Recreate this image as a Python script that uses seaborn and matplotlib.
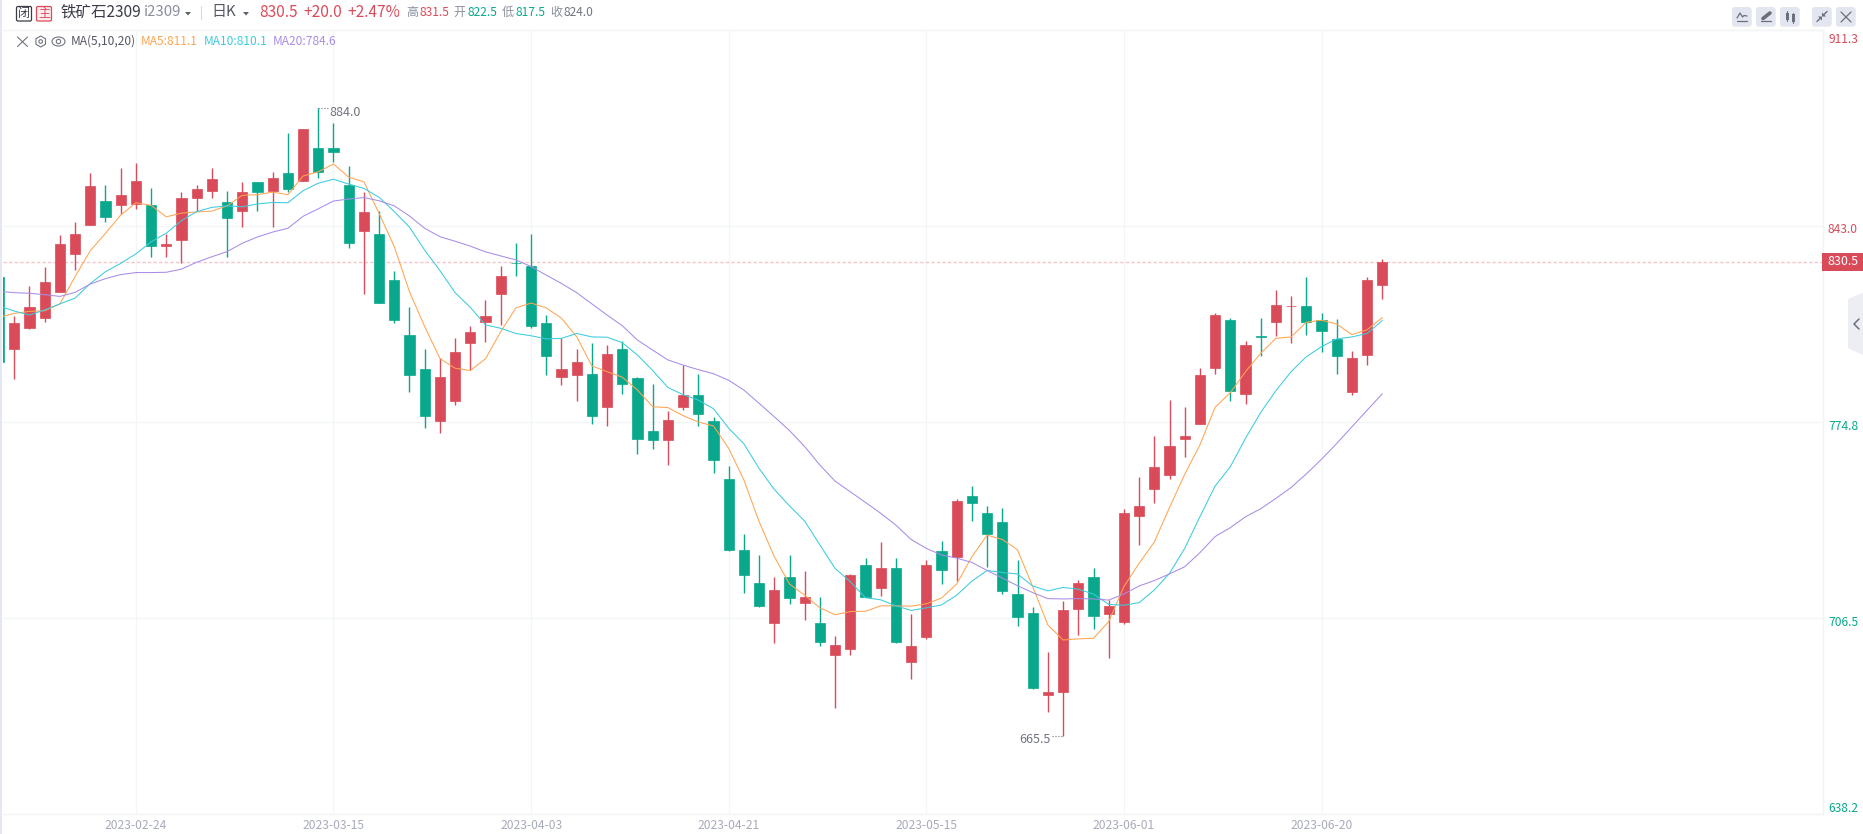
import pandas as pd
import seaborn as sns
import matplotlib
matplotlib.use("Agg")
import matplotlib.pyplot as plt
from matplotlib.patches import Rectangle, FancyBboxPatch, Polygon, Circle, RegularPolygon, Ellipse

# OHLC
opens = [825.4, 800.3, 807.5, 811.0, 820.0, 833.3, 843.4, 851.7, 850.3, 850.7,
         850.3, 836.0, 838.1, 852.7, 855.2, 851.4, 848.2, 858.3, 855.2, 861.4,
         858.7, 870.1, 870.1, 857.3, 841.3, 840.2, 824.2, 805.1, 793.2, 775.1,
         782.1, 802.3, 809.6, 819.3, 830.1, 829.1, 809.2, 790.4, 791.1, 791.5,
         780.0, 800.2, 790.1, 771.6, 768.5, 780.0, 784.2, 775.1, 754.9, 730.2,
         718.7, 704.8, 720.8, 711.8, 704.8, 693.7, 695.8, 725.0, 717.0, 724.0,
         691.2, 699.9, 729.9, 727.8, 749.0, 743.1, 740.0, 714.9, 708.3, 679.7,
         680.8, 709.7, 720.8, 707.9, 705.2, 742.1, 751.5, 756.3, 768.9, 774.1,
         793.6, 810.3, 784.5, 804.6, 809.6, 815.0, 815.2, 810.3, 803.7, 785.2,
         798.1, 822.5]
closes = [795.8, 809.4, 814.8, 823.5, 836.7, 840.2, 857.0, 846.1, 853.8, 858.7,
          836.0, 836.7, 852.7, 855.9, 859.4, 845.8, 854.8, 854.8, 859.7, 855.9,
          876.8, 861.8, 868.8, 837.1, 847.9, 816.2, 810.3, 791.1, 776.9, 790.4,
          799.2, 806.1, 811.7, 825.6, 830.0, 808.2, 797.8, 793.2, 795.7, 776.9,
          798.5, 788.0, 768.9, 768.5, 775.5, 784.2, 777.6, 761.6, 730.2, 721.5,
          710.7, 716.3, 713.5, 713.9, 698.2, 697.1, 721.5, 713.9, 724.0, 698.2,
          696.8, 725.0, 723.3, 747.3, 746.6, 735.8, 716.0, 706.9, 682.2, 680.8,
          709.3, 718.7, 707.2, 710.7, 743.1, 745.5, 759.1, 766.4, 769.9, 791.1,
          812.0, 785.6, 801.6, 804.4, 815.5, 815.1, 809.6, 806.5, 797.8, 797.0,
          824.2, 830.5]
highs = [825.4, 811.7, 822.1, 828.7, 839.9, 844.4, 861.4, 857.3, 863.2, 865.0,
         856.2, 840.2, 854.8, 857.3, 863.2, 855.2, 858.3, 858.3, 861.8, 875.4,
         876.8, 884.0, 878.9, 863.9, 854.8, 848.2, 827.4, 814.8, 800.2, 797.1,
         804.0, 808.2, 817.2, 829.1, 837.1, 840.2, 812.0, 804.0, 800.2, 802.3,
         801.6, 803.0, 790.4, 788.0, 778.6, 794.6, 791.5, 776.5, 759.5, 735.8,
         728.5, 720.8, 728.5, 722.9, 713.9, 700.3, 721.9, 727.4, 733.0, 727.4,
         707.9, 726.7, 733.4, 748.0, 752.5, 745.5, 744.8, 726.7, 710.4, 694.7,
         712.5, 719.8, 723.9, 712.8, 744.5, 755.6, 769.9, 782.4, 780.0, 793.6,
         812.7, 811.0, 803.0, 811.0, 820.7, 818.6, 825.3, 812.7, 810.6, 799.5,
         825.3, 831.5]
lows = [795.8, 789.9, 807.1, 809.6, 820.0, 827.7, 843.4, 844.4, 847.2, 848.9,
        832.2, 832.2, 830.1, 848.2, 852.7, 832.2, 842.7, 848.2, 842.7, 854.8,
        858.7, 859.7, 865.3, 835.4, 819.3, 816.2, 809.2, 785.2, 772.7, 771.0,
        780.7, 792.9, 802.6, 808.6, 825.6, 807.5, 791.1, 787.7, 782.1, 774.1,
        773.4, 784.5, 763.6, 765.4, 759.8, 779.0, 773.4, 757.0, 729.9, 715.2,
        710.4, 697.8, 711.4, 705.9, 696.8, 675.2, 693.7, 713.9, 714.2, 697.8,
        685.3, 699.2, 718.4, 719.4, 740.3, 724.3, 714.9, 703.8, 681.8, 673.8,
        665.5, 700.6, 702.7, 692.6, 704.5, 732.0, 746.6, 754.9, 762.6, 774.1,
        791.5, 782.1, 781.0, 797.8, 804.7, 802.3, 805.1, 799.1, 791.5, 784.2,
        794.6, 817.5]

ma5 = [811.2, 812.6, 813.3, 813.5, 815.9, 825.4, 834.4, 840.5, 846.8, 851.1,
       850.2, 846.2, 847.5, 847.9, 848.2, 850.0, 853.7, 853.9, 854.8, 853.9,
       860.4, 861.9, 864.6, 860.0, 858.4, 847.4, 835.8, 820.1, 808.0, 796.9,
       793.5, 792.7, 796.8, 806.2, 814.5, 816.2, 814.5, 810.9, 804.5, 794.3,
       792.3, 790.4, 785.9, 780.1, 779.8, 777.0, 774.8, 773.4, 765.6, 754.6,
       740.1, 727.9, 718.4, 714.5, 710.1, 707.7, 708.8, 708.9, 710.8, 710.8,
       710.7, 711.5, 713.5, 718.4, 727.9, 735.4, 733.9, 730.3, 717.5, 704.1,
       698.9, 699.3, 699.5, 705.3, 717.5, 725.6, 733.0, 745.0, 756.6, 766.8,
       779.9, 785.0, 792.3, 798.7, 803.9, 804.4, 809.5, 810.2, 808.9, 805.2,
       806.9, 811.1]
ma10 = [815.2, 813.4, 812.0, 813.8, 815.9, 817.9, 823.0, 827.1, 830.0, 833.3,
        837.5, 840.5, 844.9, 848.0, 849.5, 850.0, 849.7, 850.7, 851.2, 851.1,
        855.3, 857.9, 859.3, 857.6, 856.1, 853.0, 848.0, 842.6, 834.6, 827.5,
        819.8, 814.7, 808.6, 807.4, 805.6, 804.8, 803.7, 803.9, 805.6, 804.4,
        804.3, 802.4, 798.1, 792.7, 786.8, 784.3, 782.4, 779.4, 772.6, 767.2,
        758.6, 751.3, 745.6, 740.3, 732.0, 723.8, 719.2, 713.6, 712.9, 710.8,
        709.2, 710.1, 711.1, 714.5, 719.4, 723.1, 722.4, 721.9, 717.7, 716.0,
        717.2, 716.6, 714.9, 711.3, 711.0, 711.9, 716.3, 722.1, 730.8, 741.8,
        752.5, 759.2, 769.1, 778.1, 785.7, 792.3, 797.5, 801.0, 803.7, 804.4,
        805.6, 810.1]
ma20 = [820.3, 819.8, 819.6, 819.1, 818.5, 819.9, 822.8, 824.7, 826.1, 826.8,
        826.8, 826.9, 828.0, 830.4, 832.3, 834.1, 837.0, 839.2, 840.9, 842.2,
        846.4, 849.0, 851.7, 852.4, 852.9, 851.8, 850.0, 846.5, 842.2, 839.3,
        837.7, 836.0, 834.0, 832.6, 831.2, 828.9, 825.9, 823.0, 819.8, 815.9,
        812.0, 808.3, 803.3, 799.8, 796.4, 794.6, 793.0, 791.6, 789.3, 785.9,
        781.3, 776.6, 771.8, 766.2, 759.8, 754.2, 750.5, 746.8, 743.0, 738.9,
        733.9, 730.8, 728.5, 727.4, 725.9, 723.1, 720.5, 717.8, 715.4, 713.3,
        713.2, 713.3, 713.2, 712.8, 714.9, 717.7, 719.6, 721.9, 724.4, 729.3,
        734.9, 738.0, 741.8, 744.6, 748.2, 752.0, 756.7, 761.8, 767.3, 773.1,
        778.9, 784.6]

date_pos = [9, 22, 35, 48, 61, 74, 87]
date_labels = ["2023-02-24", "2023-03-15", "2023-04-03", "2023-04-21",
               "2023-05-15", "2023-06-01", "2023-06-20"]
grid_prices = [843.0, 774.8, 706.5]
price_ticks = [911.3, 843.0, 774.8, 706.5, 638.2]
price_tick_labels = ["911.3", "843.0", "774.8", "706.5", "638.2"]
last_price = 830.5

RED = "#da4b59"
GREEN = "#09a88c"
ORANGE = "#ffa552"
CYAN = "#3ccbe0"
PURPLE = "#a98ce8"
GRID = "#f4f5f8"

sns.set_theme(style="white")
plt.rcParams["font.family"] = ["Noto Sans CJK SC", "DejaVu Sans"]

W, H = 1863, 834
fig = plt.figure(figsize=(W / 100, H / 100), dpi=100, facecolor="white")
ax = fig.add_axes([2.5 / W, (H - 814.4) / H, 1820 / W, 784.6 / H])

df = pd.DataFrame({"idx": range(len(opens)), "open": opens, "high": highs,
                   "low": lows, "close": closes})
df["color"] = [RED if c >= o else GREEN for o, c in zip(df["open"], df["close"])]

ax.set_xlim(0.224, 119.96)
ax.set_ylim(638.2, 911.3)

for p in date_pos:
    ax.axvline(p, color=GRID, lw=1.0, zorder=0)
for p in grid_prices:
    ax.axhline(p, color=GRID, lw=1.0, zorder=0)
ax.axhline(last_price, color="#f5c6cb", lw=1.0, ls=(0, (2.5, 1.5)), zorder=1)

# candles
ax.vlines(df["idx"], df["low"], df["high"], colors=df["color"], lw=1.0, zorder=2)
ax.bar(df["idx"], (df["close"] - df["open"]).abs(),
       bottom=df[["open", "close"]].min(axis=1), width=0.68,
       color=df["color"], edgecolor=df["color"], linewidth=0.5, zorder=3)

# moving averages
ma_df = pd.DataFrame({"idx": df["idx"], "MA5": ma5, "MA10": ma10, "MA20": ma20})
ma_long = ma_df.melt(id_vars="idx", var_name="ma", value_name="value")
sns.lineplot(data=ma_long, x="idx", y="value", hue="ma",
             palette={"MA5": ORANGE, "MA10": CYAN, "MA20": PURPLE},
             linewidth=0.75, legend=False, errorbar=None, ax=ax, zorder=4)

ax.set_xlabel("")
ax.set_ylabel("")
ax.set_yticks([])
ax.set_xticks(date_pos)
ax.set_xticklabels(date_labels, fontsize=8.7, color="#a8abba")
ax.tick_params(axis="x", length=0, pad=3)
for name, spine in ax.spines.items():
    spine.set_color("#f2f3f7")
    spine.set_linewidth(1.0)
    spine.set_visible(name != "left")

# extreme labels
ax.annotate("884.0", xy=(21, 884.0), xytext=(11, -4.5), textcoords="offset pixels",
            fontsize=9, color="#70747f", va="center", ha="left")
ax.annotate("665.5", xy=(70, 665.5), xytext=(-12, -4), textcoords="offset pixels",
            fontsize=9, color="#70747f", va="center", ha="right")
ax.plot([21, 21.65], [884.0, 884.0], color="#70747f", lw=0.8, ls=":", zorder=5)
ax.plot([69.3, 70], [665.5, 665.5], color="#70747f", lw=0.8, ls=":", zorder=5)

# price scale labels
offsets = [-10, -3.5, -4.5, -4, 6]
for p, lab, off in zip(price_ticks, price_tick_labels, offsets):
    ax.annotate(lab, xy=(1, p), xycoords=("axes fraction", "data"),
                xytext=(20.5, off), textcoords="offset pixels", fontsize=8.7,
                color=RED if p > last_price else GREEN, ha="center", va="center",
                annotation_clip=False)

# app chrome on a pixel overlay
ui = fig.add_axes([0, 0, 1, 1], facecolor="none")
ui.set_xlim(0, W)
ui.set_ylim(H, 0)
ui.axis("off")

ui.add_patch(Rectangle((0, 0), 2.2, H, color="#e4e8f2", lw=0))
ui.add_patch(Rectangle((1822, 252.7), 41, 18, color=RED, lw=0))
ui.text(1843, 261.5, "830.5", color="white", fontsize=8.9, ha="center", va="center")

def label(x, y, s, color, px=12, ha="left", weight="normal"):
    ui.text(x, y, s, color=color, fontsize=px * 0.72, ha=ha, va="center", fontweight=weight)

# header row
ui.add_patch(FancyBboxPatch((16.5, 6.5), 15, 14.5, boxstyle="round,pad=0,rounding_size=1.5",
                            fc="white", ec="#3a3d47", lw=0.9))
label(24, 13.5, "闭", "#3a3d47", 12, "center")
ui.add_patch(FancyBboxPatch((36.5, 6.5), 15, 14.5, boxstyle="round,pad=0,rounding_size=1.5",
                            fc="#fdecee", ec=RED, lw=0.9))
label(44, 13.5, "主", RED, 12, "center")
label(60.5, 12, "铁矿石2309", "#3a3d47", 15.5)
label(144, 12, "i2309", "#8b8f9e", 15)
ui.add_patch(Polygon([[185, 12], [191, 12], [188, 15.5]], color="#5d606c", lw=0))
ui.plot([201, 201], [6, 19], color="#d8dae2", lw=0.8)
label(211.5, 12, "日K", "#555864", 15)
ui.add_patch(Polygon([[243, 12], [249, 12], [246, 15.5]], color="#5d606c", lw=0))
label(259, 12, "830.5", RED, 15.5, weight="medium")
label(303, 12, "+20.0", RED, 15.5, weight="medium")
label(347, 12, "+2.47%", RED, 15.5, weight="medium")
for x, s in [(406, "高"), (453.5, "开"), (502, "低"), (550, "收")]:
    label(x, 12, s, "#8b8f9e", 12)
label(419, 12, "831.5", RED)
label(467, 12, "822.5", GREEN)
label(515, 12, "817.5", GREEN)
label(563, 12, "824.0", "#70747f")

# indicator row
ui.plot([17.5, 27.5], [37, 46.5], color="#70747f", lw=0.8)
ui.plot([17.5, 27.5], [46.5, 37], color="#70747f", lw=0.8)
ui.add_patch(RegularPolygon((40.7, 41.5), 6, radius=5.5, fc="none", ec="#70747f", lw=0.8))
ui.add_patch(Circle((40.7, 41.5), 1.8, fc="none", ec="#70747f", lw=0.8))
ui.add_patch(Ellipse((58.5, 41.5), 13, 9, fc="none", ec="#70747f", lw=0.8))
ui.add_patch(Circle((58.5, 41.5), 2.2, fc="none", ec="#70747f", lw=0.8))
label(70.8, 41.5, "MA(5,10,20)", "#555864")
label(141, 41.5, "MA5:811.1", ORANGE)
label(203.6, 41.5, "MA10:810.1", CYAN)
label(272.8, 41.5, "MA20:784.6", PURPLE)

# toolbar buttons
ICON = "#6b6e7c"
for bx in [1732, 1756, 1780, 1812, 1836]:
    ui.add_patch(FancyBboxPatch((bx, 7), 19.7, 19.7, boxstyle="round,pad=0,rounding_size=3",
                                fc="#e3e6ee", ec="none"))
ui.plot([1737, 1740, 1742.5, 1744, 1747], [18, 13, 17, 15.5, 16], color=ICON, lw=0.9)
ui.plot([1737, 1747], [21, 21], color=ICON, lw=0.9)
ui.plot([1763, 1770], [18.5, 13], color=ICON, lw=2.6)
ui.plot([1761, 1771], [21, 21], color=ICON, lw=0.9)
ui.add_patch(Rectangle((1785.5, 12.5), 3, 7, color=ICON, lw=0))
ui.plot([1787, 1787], [11, 21], color=ICON, lw=0.8)
ui.add_patch(Rectangle((1791.5, 14), 3, 7.5, color=ICON, lw=0))
ui.plot([1793, 1793], [12.5, 23], color=ICON, lw=0.8)
ui.plot([1817, 1820.5], [21.5, 18], color=ICON, lw=1.0)
ui.add_patch(Polygon([[1822, 16.5], [1822, 20.5], [1818, 16.5]], color=ICON, lw=0))
ui.plot([1823.5, 1827], [15, 11.5], color=ICON, lw=1.0)
ui.add_patch(Polygon([[1822, 16.5], [1822, 12.5], [1826, 16.5]], color=ICON, lw=0))
ui.plot([1841, 1851], [12, 22], color=ICON, lw=0.9)
ui.plot([1841, 1851], [22, 12], color=ICON, lw=0.9)

# collapse tab on the right edge
ui.add_patch(Polygon([[1863, 292.7], [1848, 299], [1848, 348], [1863, 355]], color="#eceef3", lw=0))
ui.plot([1859, 1854, 1859], [319, 324, 329], color="#6b6e7c", lw=1.1)

fig.savefig("out.png", dpi=100, facecolor="white")
